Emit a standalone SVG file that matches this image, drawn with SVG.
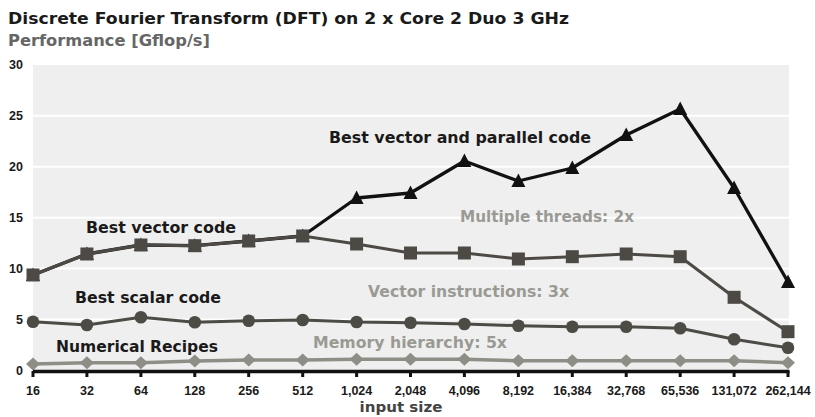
<svg xmlns="http://www.w3.org/2000/svg" xmlns:xlink="http://www.w3.org/1999/xlink" width="815" height="417" viewBox="0 0 815 417">
<style>
.title{font-family:"DejaVu Sans",Verdana,sans-serif;font-weight:bold;font-size:16px;fill:#1a1a1a}
.sub{font-family:"DejaVu Sans",Verdana,sans-serif;font-weight:bold;font-size:15px;fill:#666}
.ax{font-family:"Liberation Sans",Arial,sans-serif;font-weight:bold;font-size:12.5px;fill:#1a1a1a}
.xl{text-anchor:middle}
.yl{text-anchor:end}
.lab{font-family:"DejaVu Sans",Verdana,sans-serif;font-weight:bold;font-size:15px;fill:#1a1a1a}
.ann{font-family:"DejaVu Sans",Verdana,sans-serif;font-weight:bold;font-size:15px;fill:#9a9a94}
.axt{font-family:"DejaVu Sans",Verdana,sans-serif;font-weight:bold;font-size:14px;fill:#444}
.grid{stroke:#fff;stroke-width:2}
.ln{fill:none;stroke-linejoin:round}
</style>
<defs>
<polygon id="tri" points="0,-7.5 7,6 -7,6" fill="#111"/>
<rect id="sq" x="-6.5" y="-6.5" width="13" height="13" fill="#4d4a45"/>
<circle id="ci" r="6.3" fill="#4d4b46"/>
<polygon id="di" points="0,-6.5 7,0 0,6.5 -7,0" fill="#8e8e86"/>
</defs>
<text class="title" x="8" y="24" textLength="561" lengthAdjust="spacingAndGlyphs">Discrete Fourier Transform (DFT) on 2 x Core 2 Duo 3 GHz</text>
<text class="sub" x="8" y="46" textLength="202" lengthAdjust="spacingAndGlyphs">Performance [Gflop/s]</text>
<g id="plot-area">
<rect x="33" y="65" width="756" height="306" fill="#efefef"/>
<line class="grid" x1="33" y1="115.75" x2="789" y2="115.75"/>
<line class="grid" x1="33" y1="166.7" x2="789" y2="166.7"/>
<line class="grid" x1="33" y1="217.65" x2="789" y2="217.65"/>
<line class="grid" x1="33" y1="268.6" x2="789" y2="268.6"/>
<line class="grid" x1="33" y1="319.55" x2="789" y2="319.55"/>
</g>
<g id="y-axis">
<text class="ax yl" x="23" y="69">30</text>
<text class="ax yl" x="23" y="120">25</text>
<text class="ax yl" x="23" y="171">20</text>
<text class="ax yl" x="23" y="222">15</text>
<text class="ax yl" x="23" y="273">10</text>
<text class="ax yl" x="23" y="324">5</text>
<text class="ax yl" x="23" y="375">0</text>
</g>
<g id="numerical-recipes">
<polyline class="ln" stroke="#8e8e86" stroke-width="3.5" points="33,364 86.9,362.7 140.9,362.7 194.8,361 248.7,360 302.7,360 356.6,359.3 410.5,359.3 464.4,359.3 518.4,360.7 572.3,360.7 626.2,360.7 680.2,360.7 734.1,360.7 788,362.7"/>
<use xlink:href="#di" x="33" y="364"/><use xlink:href="#di" x="86.9" y="362.7"/><use xlink:href="#di" x="140.9" y="362.7"/><use xlink:href="#di" x="194.8" y="361"/><use xlink:href="#di" x="248.7" y="360"/><use xlink:href="#di" x="302.7" y="360"/><use xlink:href="#di" x="356.6" y="359.3"/><use xlink:href="#di" x="410.5" y="359.3"/><use xlink:href="#di" x="464.4" y="359.3"/><use xlink:href="#di" x="518.4" y="360.7"/><use xlink:href="#di" x="572.3" y="360.7"/><use xlink:href="#di" x="626.2" y="360.7"/><use xlink:href="#di" x="680.2" y="360.7"/><use xlink:href="#di" x="734.1" y="360.7"/><use xlink:href="#di" x="788" y="362.7"/>
</g>
<g id="best-scalar">
<polyline class="ln" stroke="#4d4b46" stroke-width="3" points="33,321.7 86.9,325 140.9,317.3 194.8,322.3 248.7,320.7 302.7,320 356.6,322 410.5,322.7 464.4,324 518.4,325.7 572.3,326.7 626.2,326.7 680.2,328.3 734.1,339.3 788,347.7"/>
<use xlink:href="#ci" x="33" y="321.7"/><use xlink:href="#ci" x="86.9" y="325"/><use xlink:href="#ci" x="140.9" y="317.3"/><use xlink:href="#ci" x="194.8" y="322.3"/><use xlink:href="#ci" x="248.7" y="320.7"/><use xlink:href="#ci" x="302.7" y="320"/><use xlink:href="#ci" x="356.6" y="322"/><use xlink:href="#ci" x="410.5" y="322.7"/><use xlink:href="#ci" x="464.4" y="324"/><use xlink:href="#ci" x="518.4" y="325.7"/><use xlink:href="#ci" x="572.3" y="326.7"/><use xlink:href="#ci" x="626.2" y="326.7"/><use xlink:href="#ci" x="680.2" y="328.3"/><use xlink:href="#ci" x="734.1" y="339.3"/><use xlink:href="#ci" x="788" y="347.7"/>
</g>
<g id="best-vector-parallel">
<polyline class="ln" stroke="#111" stroke-width="3.3" points="33,275 86.9,254 140.9,245 194.8,245.7 248.7,241 302.7,236 356.6,198 410.5,193 464.4,161 518.4,181 572.3,168 626.2,135 680.2,109 734.1,188 788,282"/>
<use xlink:href="#tri" x="33" y="275"/><use xlink:href="#tri" x="86.9" y="254"/><use xlink:href="#tri" x="140.9" y="245"/><use xlink:href="#tri" x="194.8" y="245.7"/><use xlink:href="#tri" x="248.7" y="241"/><use xlink:href="#tri" x="302.7" y="236"/><use xlink:href="#tri" x="356.6" y="198"/><use xlink:href="#tri" x="410.5" y="193"/><use xlink:href="#tri" x="464.4" y="161"/><use xlink:href="#tri" x="518.4" y="181"/><use xlink:href="#tri" x="572.3" y="168"/><use xlink:href="#tri" x="626.2" y="135"/><use xlink:href="#tri" x="680.2" y="109"/><use xlink:href="#tri" x="734.1" y="188"/><use xlink:href="#tri" x="788" y="282"/>
</g>
<g id="best-vector">
<polyline class="ln" stroke="#4d4a45" stroke-width="3" points="33,275 86.9,254 140.9,245 194.8,245.7 248.7,241 302.7,236 356.6,244 410.5,253 464.4,253 518.4,259 572.3,256.7 626.2,254 680.2,256.7 734.1,297.3 788,331.7"/>
<use xlink:href="#sq" x="33" y="275"/><use xlink:href="#sq" x="86.9" y="254"/><use xlink:href="#sq" x="140.9" y="245"/><use xlink:href="#sq" x="194.8" y="245.7"/><use xlink:href="#sq" x="248.7" y="241"/><use xlink:href="#sq" x="302.7" y="236"/><use xlink:href="#sq" x="356.6" y="244"/><use xlink:href="#sq" x="410.5" y="253"/><use xlink:href="#sq" x="464.4" y="253"/><use xlink:href="#sq" x="518.4" y="259"/><use xlink:href="#sq" x="572.3" y="256.7"/><use xlink:href="#sq" x="626.2" y="254"/><use xlink:href="#sq" x="680.2" y="256.7"/><use xlink:href="#sq" x="734.1" y="297.3"/><use xlink:href="#sq" x="788" y="331.7"/>
</g>
<g id="x-axis">
<line x1="33" y1="371.5" x2="789.5" y2="371.5" stroke="#111" stroke-width="3.5"/>
<g stroke="#111" stroke-width="3">
<line x1="33" y1="371" x2="33" y2="377"/><line x1="86.9" y1="371" x2="86.9" y2="377"/><line x1="140.9" y1="371" x2="140.9" y2="377"/><line x1="194.8" y1="371" x2="194.8" y2="377"/><line x1="248.7" y1="371" x2="248.7" y2="377"/><line x1="302.7" y1="371" x2="302.7" y2="377"/><line x1="356.6" y1="371" x2="356.6" y2="377"/><line x1="410.5" y1="371" x2="410.5" y2="377"/><line x1="464.4" y1="371" x2="464.4" y2="377"/><line x1="518.4" y1="371" x2="518.4" y2="377"/><line x1="572.3" y1="371" x2="572.3" y2="377"/><line x1="626.2" y1="371" x2="626.2" y2="377"/><line x1="680.2" y1="371" x2="680.2" y2="377"/><line x1="734.1" y1="371" x2="734.1" y2="377"/><line x1="788" y1="371" x2="788" y2="377"/>
</g>
<text class="ax xl" x="33" y="395">16</text>
<text class="ax xl" x="86.9" y="395">32</text>
<text class="ax xl" x="140.9" y="395">64</text>
<text class="ax xl" x="194.8" y="395">128</text>
<text class="ax xl" x="248.7" y="395">256</text>
<text class="ax xl" x="302.7" y="395">512</text>
<text class="ax xl" x="356.6" y="395">1,024</text>
<text class="ax xl" x="410.5" y="395">2,048</text>
<text class="ax xl" x="464.4" y="395">4,096</text>
<text class="ax xl" x="518.4" y="395">8,192</text>
<text class="ax xl" x="572.3" y="395">16,384</text>
<text class="ax xl" x="626.2" y="395">32,768</text>
<text class="ax xl" x="680.2" y="395">65,536</text>
<text class="ax xl" x="734.1" y="395">131,072</text>
<text class="ax xl" x="788" y="395">262,144</text>
<text class="axt" x="401" y="412" text-anchor="middle" textLength="83" lengthAdjust="spacingAndGlyphs">input size</text>
</g>
<g id="labels">
<text class="lab" x="329" y="143" textLength="262" lengthAdjust="spacingAndGlyphs">Best vector and parallel code</text>
<text class="lab" x="86" y="233" textLength="150" lengthAdjust="spacingAndGlyphs">Best vector code</text>
<text class="lab" x="75" y="303" textLength="146" lengthAdjust="spacingAndGlyphs">Best scalar code</text>
<text class="lab" x="56" y="352" textLength="162" lengthAdjust="spacingAndGlyphs">Numerical Recipes</text>
<text class="ann" x="460" y="222" textLength="174" lengthAdjust="spacingAndGlyphs">Multiple threads: 2x</text>
<text class="ann" x="368" y="297" textLength="201" lengthAdjust="spacingAndGlyphs">Vector instructions: 3x</text>
<text class="ann" x="313" y="348" textLength="194" lengthAdjust="spacingAndGlyphs">Memory hierarchy: 5x</text>
</g>
</svg>
